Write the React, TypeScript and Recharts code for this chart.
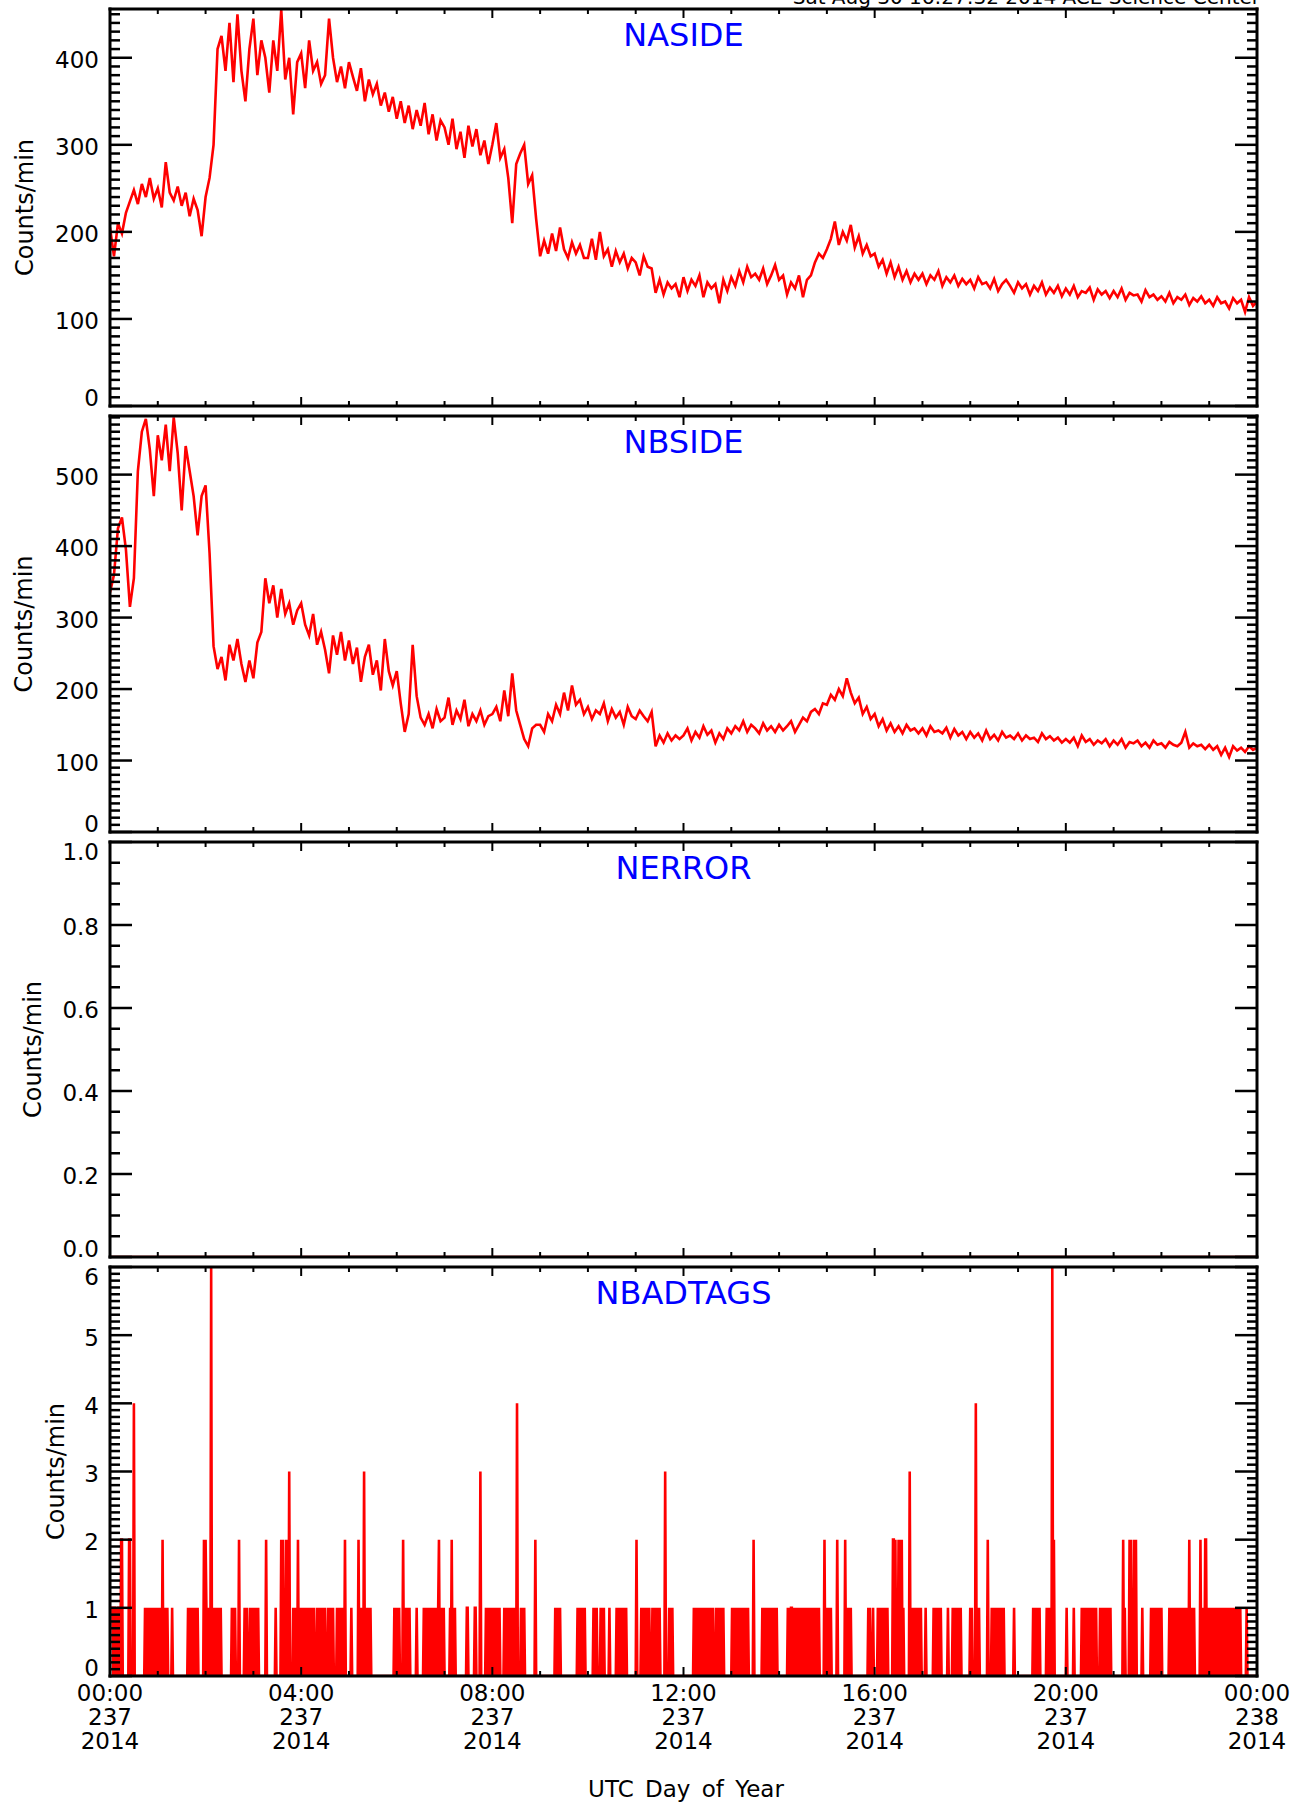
import React from 'react';
import { LineChart, Line, XAxis, YAxis, Label } from 'recharts';

const FONT = '"DejaVu Sans", Verdana, sans-serif';
const RED = '#ff0000';
const BLUE = '#0000ff';

// ---- time axis (minutes of day 237, 2014) ----
const HOUR_TICKS = [0, 60, 120, 180, 240, 300, 360, 420, 480, 540, 600, 660, 720, 780, 840, 900, 960, 1020, 1080, 1140, 1200, 1260, 1320, 1380, 1440];
const MAJOR_MINUTES = [0, 240, 480, 720, 960, 1200, 1440];
const TIME_LABELS = ['00:00', '04:00', '08:00', '12:00', '16:00', '20:00', '00:00'];
const DAY_LABELS = ['237', '237', '237', '237', '237', '237', '238'];
const YEAR_LABELS = ['2014', '2014', '2014', '2014', '2014', '2014', '2014'];

// ---- NASIDE, one reading every 5 minutes ----
const SAMPLE_MINUTES = 5;
const NASIDE = [
  205, 172, 210, 198, 222, 235, 248, 232, 255, 240, 262, 238,
  250, 228, 280, 245, 236, 252, 230, 245, 218, 238, 225, 195,
  240, 262, 300, 410, 425, 385, 440, 372, 450, 385, 350, 410,
  445, 380, 420, 400, 360, 420, 385, 455, 375, 400, 335, 395,
  405, 365, 420, 385, 395, 370, 380, 445, 400, 372, 390, 365,
  395, 378, 362, 388, 350, 375, 358, 370, 345, 360, 338, 355,
  330, 350, 325, 345, 318, 340, 322, 348, 312, 335, 305, 328,
  320, 300, 330, 295, 315, 285, 322, 298, 318, 288, 305, 278,
  300, 325, 285, 295, 262, 210, 278, 290, 300, 255, 265, 215,
  172, 190, 175, 198, 178, 205, 180, 170, 188, 175, 185, 170,
  170, 192, 168, 200, 172, 180, 160, 178, 165, 175, 158, 170,
  165, 150, 172, 160, 158, 130, 145, 128, 142, 135, 140, 125,
  148, 132, 145, 138, 150, 125, 142, 135, 140, 118, 145, 132,
  148, 138, 155, 142, 160, 148, 152, 145, 158, 140, 150, 162,
  145, 150, 128, 142, 135, 150, 125, 145, 150, 165, 175, 170,
  180, 192, 212, 185, 200, 190, 208, 182, 195, 175, 185, 172,
  175, 160, 168, 152, 165, 148, 160, 145, 155, 142, 152, 145,
  152, 140, 150, 145, 155, 138, 148, 142, 150, 138, 146, 140,
  145, 135, 148, 140, 142, 135, 146, 132, 140, 145, 138, 130,
  142, 135, 140, 128, 138, 132, 142, 128, 136, 130, 138, 126,
  135, 128, 138, 125, 132, 130, 136, 122, 134, 128, 132, 124,
  132, 125, 135, 122, 130, 127, 128, 120, 133, 125, 128, 122,
  126, 120, 130, 118, 125, 122, 128, 116, 124, 120, 126, 118,
  122, 115, 125, 118, 120, 112, 124, 118, 122, 108, 125, 115,
  120,
];

// ---- NBSIDE, one reading every 5 minutes ----
const NBSIDE = [
  335, 360, 425, 440, 395, 315, 355, 505, 560, 578, 535, 470,
  555, 520, 570, 505, 580, 530, 450, 540, 505, 470, 415, 470,
  485, 390, 260, 228, 245, 212, 262, 240, 270, 235, 210, 240,
  215, 265, 280, 355, 320, 345, 300, 340, 305, 320, 290, 310,
  320, 290, 275, 305, 262, 280, 255, 222, 275, 248, 280, 240,
  268, 235, 258, 210, 245, 262, 220, 240, 198, 270, 225, 205,
  225, 180, 140, 165, 262, 190, 160, 150, 165, 145, 172, 155,
  160, 188, 150, 170, 158, 185, 148, 165, 155, 170, 150, 162,
  165, 175, 155, 198, 162, 222, 170, 150, 130, 120, 145, 150,
  150, 140, 165, 155, 178, 165, 195, 170, 205, 178, 185, 165,
  175, 158, 170, 165, 180, 155, 172, 160, 168, 150, 175, 162,
  158, 170, 162, 155, 168, 120, 135, 125, 138, 128, 135, 130,
  135, 145, 128, 140, 132, 148, 136, 142, 125, 138, 130, 145,
  138, 148, 142, 155, 140, 150, 145, 138, 152, 142, 148, 140,
  150, 142, 148, 155, 140, 150, 160, 155, 168, 172, 165, 180,
  178, 192, 185, 200, 190, 215, 195, 180, 188, 165, 175, 158,
  165, 148, 158, 142, 152, 140, 148, 138, 150, 142, 145, 138,
  145, 135, 148, 140, 142, 138, 146, 132, 144, 135, 140, 130,
  140, 132, 138, 128, 142, 130, 136, 128, 140, 132, 135, 130,
  138, 128, 135, 130, 132, 126, 138, 130, 134, 128, 132, 125,
  130, 125, 132, 120, 135, 126, 130, 122, 128, 124, 130, 120,
  128, 122, 130, 118, 126, 124, 128, 120, 125, 118, 128, 122,
  124, 118, 126, 122, 120, 125, 140, 118, 124, 120, 122, 116,
  122, 115, 120, 108, 118, 105, 120, 114, 118, 112, 120, 115,
  118,
];

// ---- NERROR, hourly readings (all zero) ----
const NERROR_STEP = 60;
const NERROR = [0, 0, 0, 0, 0, 0, 0, 0, 0, 0, 0, 0, 0, 0, 0, 0, 0, 0, 0, 0, 0, 0, 0, 0, 0];

// ---- NBADTAGS: minutes with non-zero counts, grouped by count ----
const BAD_TAG_ONES = [
  0, 1, 2, 3, 5, 6, 8, 10, 11, 44, 46, 48, 50, 52, 54, 56, 58, 60, 62, 64, 68, 70, 72, 78,
  98, 100, 102, 104, 106, 108, 110, 121, 123, 125, 129, 131, 133, 135, 137, 139,
  153, 155, 157, 169, 172, 176, 178, 180, 182, 184, 186, 208, 219, 230, 232, 234,
  238, 240, 242, 244, 246, 248, 250, 252, 254, 256, 260, 262, 264, 266, 268, 270,
  274, 276, 278, 280, 285, 287, 289, 291, 293, 303, 314, 316, 321, 323, 325, 327,
  357, 359, 361, 363, 370, 372, 374, 376, 385, 394, 396, 398, 400, 402, 404, 406, 408, 410, 412,
  415, 417, 419, 427, 431, 433, 448, 449, 458, 459, 472, 474, 476, 478, 481, 483, 485, 487, 489,
  495, 497, 499, 501, 503, 505, 507, 516, 518, 520, 559, 561, 563, 565, 587, 589, 592, 594, 596,
  607, 609, 611, 616, 618, 620, 627, 636, 638, 640, 642, 644, 646, 648,
  667, 669, 671, 673, 675, 677, 681, 683, 685, 688, 690, 702, 704, 706,
  733, 735, 737, 740, 742, 744, 747, 749, 751, 753, 755, 757, 761, 763, 766, 768, 770,
  781, 783, 785, 787, 789, 791, 793, 795, 797, 799, 801, 819, 821, 824, 827, 829, 831, 833, 835, 837,
  851, 853, 855, 856, 858, 860, 862, 864, 866, 868, 870, 872, 874, 876, 878, 880, 882, 884, 886, 888, 890,
  899, 901, 903, 905, 926, 928, 930, 952, 954, 958, 964, 966, 968, 970, 972, 974, 976, 988, 996,
  1006, 1008, 1010, 1012, 1014, 1016, 1018, 1024, 1034, 1036, 1038, 1040, 1043, 1052,
  1058, 1060, 1062, 1064, 1066, 1068, 1080, 1082, 1089, 1091,
  1107, 1109, 1111, 1113, 1115, 1117, 1119, 1122, 1135, 1159, 1161, 1163, 1165, 1167,
  1176, 1178, 1180, 1201, 1210, 1220, 1222, 1224, 1226, 1228, 1230, 1232, 1234, 1236, 1238,
  1243, 1245, 1247, 1249, 1251, 1253, 1256, 1274, 1284, 1296,
  1307, 1309, 1311, 1313, 1315, 1317, 1320, 1330, 1332, 1334, 1336, 1338, 1341,
  1344, 1346, 1348, 1350, 1352, 1357, 1359, 1361, 1371, 1373,
  1378, 1380, 1382, 1384, 1386, 1388, 1390, 1392, 1394, 1396, 1398, 1400, 1402, 1404, 1406,
  1408, 1410, 1412, 1414, 1416, 1419, 1427,
];
const BAD_TAG_TWOS = [
  14, 15, 24, 25, 66, 118, 120, 162, 196, 215, 217, 221, 223, 236, 295, 312, 368, 413, 429, 534,
  661, 808, 897, 913, 923, 983, 984, 986, 990, 992, 994, 1102, 1185, 1272, 1280, 1282, 1286, 1288,
  1355, 1369, 1375, 1376,
];
const BAD_TAG_THREES = [225, 319, 465, 697, 1004];
const BAD_TAG_FOURS = [30, 511, 1087];
const BAD_TAG_SIXES = [127, 1183];

// ---- y axes ----
const NASIDE_Y_MAJOR = [0, 100, 200, 300, 400];
const NBSIDE_Y_MAJOR = [0, 100, 200, 300, 400, 500];
const NERROR_Y_MAJOR = [0, 0.2, 0.4, 0.6, 0.8, 1.0];
const NBADTAGS_Y_MAJOR = [0, 1, 2, 3, 4, 5, 6];

// ---- build rows ----
const sampled = (vals: number[], step: number) => vals.map((v, i) => ({ t: i * step, v }));
const badTagRows = (() => {
  const rows = [];
  const counts: Record<number, number> = {};
  BAD_TAG_ONES.forEach((m) => (counts[m] = 1));
  BAD_TAG_TWOS.forEach((m) => (counts[m] = 2));
  BAD_TAG_THREES.forEach((m) => (counts[m] = 3));
  BAD_TAG_FOURS.forEach((m) => (counts[m] = 4));
  BAD_TAG_SIXES.forEach((m) => (counts[m] = 6));
  for (let m = 0; m <= 1440; m++) rows.push({ t: m, v: counts[m] || 0 });
  return rows;
})();

const tickList = (step: number, max: number) => {
  const out: number[] = [];
  for (let i = 0; i * step <= max + 1e-9; i++) out.push(Math.round(i * step * 1000) / 1000);
  return out;
};

const AX = 10;

type PanelProps = {
  top: number;
  height: number;
  rows: { t: number; v: number }[];
  yMax: number;
  yMajor: number[];
  yStep: number;
  fmt: (v: number) => string;
  title: string;
  labelCx: number;
  bottomLabels?: boolean;
  header?: boolean;
};

function Panel({ top, height, rows, yMax, yMajor, yStep, fmt, title, labelCx, bottomLabels, header }: PanelProps) {
  const bottomBand = bottomLabels ? 128 : AX;
  const chartH = AX + height + bottomBand;
  const plotTop = AX;
  const plotBottom = AX + height;
  const yTicks = tickList(yStep, yMax);
  const axisLine = { stroke: '#000', strokeWidth: 3, strokeLinecap: 'square' as const };

  const xTick = (side: 'top' | 'bottom') => (props: any) => {
    const { x, y, payload } = props;
    const v = payload.value;
    const li = MAJOR_MINUTES.indexOf(v);
    const len = li >= 0 ? 9 : 5;
    const dir = side === 'bottom' ? -1 : 1;
    return (
      <g>
        <line x1={x} x2={x} y1={y} y2={y + dir * len} stroke="#000" strokeWidth={2} />
        {side === 'bottom' && bottomLabels && li >= 0 && (
          <text textAnchor="middle" fontFamily={FONT} fontSize={23} fill="#000">
            <tspan x={x} y={y + 25}>{TIME_LABELS[li]}</tspan>
            <tspan x={x} y={y + 49}>{DAY_LABELS[li]}</tspan>
            <tspan x={x} y={y + 73}>{YEAR_LABELS[li]}</tspan>
          </text>
        )}
      </g>
    );
  };

  const yTick = (side: 'left' | 'right') => (props: any) => {
    const { x, y, payload } = props;
    const v = payload.value;
    const major = yMajor.some((m) => Math.abs(m - v) < 1e-6);
    const len = major ? 22 : 10;
    const dir = side === 'left' ? 1 : -1;
    const cy = Math.min(Math.max(y + 2, plotTop + 10), plotBottom - 8);
    return (
      <g>
        <line x1={x} x2={x + dir * len} y1={y} y2={y} stroke="#000" strokeWidth={2.5} />
        {side === 'left' && major && (
          <text x={x - 11} y={cy + 8.4} textAnchor="end" fontFamily={FONT} fontSize={23} fill="#000">
            {fmt(v)}
          </text>
        )}
      </g>
    );
  };

  return (
    <div style={{ position: 'absolute', left: 0, top: top - AX, width: 1306, height: chartH }}>
      <LineChart width={1306} height={chartH} data={rows} margin={{ top: 0, right: 0, bottom: 0, left: 0 }}>
        <XAxis
          xAxisId="b"
          dataKey="t"
          type="number"
          domain={[0, 1440]}
          ticks={HOUR_TICKS}
          interval={0}
          height={bottomBand}
          tickSize={0}
          tickMargin={0}
          tickLine={false}
          axisLine={axisLine}
          tick={xTick('bottom')}
          allowDataOverflow
        >
          {bottomLabels && (
            <Label
              content={() => (
                <text x={686} y={plotBottom + 121} textAnchor="middle" fontFamily={FONT} fontSize={23} fill="#000" wordSpacing={4}>
                  UTC Day of Year
                </text>
              )}
            />
          )}
        </XAxis>
        <XAxis
          xAxisId="top"
          orientation="top"
          dataKey="t"
          type="number"
          domain={[0, 1440]}
          ticks={HOUR_TICKS}
          interval={0}
          height={AX}
          tickSize={0}
          tickMargin={0}
          tickLine={false}
          axisLine={axisLine}
          tick={xTick('top')}
          allowDataOverflow
        >
          <Label
            content={() => (
              <g>
                <text x={683.5} y={plotTop + 37} textAnchor="middle" fontFamily={FONT} fontSize={32} fill={BLUE}>
                  {title}
                </text>
                {header && (
                  <text x={1260} y={plotTop - 5} textAnchor="end" fontFamily={FONT} fontSize={20} fill="#000">
                    Sat Aug 30 16:27:32 2014 ACE Science Center
                  </text>
                )}
              </g>
            )}
          />
        </XAxis>
        <YAxis
          yAxisId="l"
          type="number"
          domain={[0, yMax]}
          ticks={yTicks}
          interval={0}
          width={110}
          tickSize={0}
          tickMargin={0}
          tickLine={false}
          axisLine={axisLine}
          tick={yTick('left')}
          allowDataOverflow
        >
          <Label
            content={() => {
              const cx = labelCx + 9;
              const cy = plotTop + height / 2;
              return (
                <text x={cx} y={cy} transform={`rotate(-90 ${cx} ${cy})`} textAnchor="middle" fontFamily={FONT} fontSize={24} fill="#000">
                  Counts/min
                </text>
              );
            }}
          />
        </YAxis>
        <YAxis
          yAxisId="r"
          orientation="right"
          type="number"
          domain={[0, yMax]}
          ticks={yTicks}
          interval={0}
          width={49}
          tickSize={0}
          tickMargin={0}
          tickLine={false}
          axisLine={axisLine}
          tick={yTick('right')}
          allowDataOverflow
        />
        <Line
          xAxisId="b"
          yAxisId="l"
          type="linear"
          dataKey="v"
          stroke={RED}
          strokeWidth={2.6}
          dot={false}
          activeDot={false}
          isAnimationActive={false}
        />
      </LineChart>
    </div>
  );
}

export default function App() {
  return (
    <div style={{ position: 'absolute', left: 0, top: 0, width: 1306, height: 1804, background: '#fff', overflow: 'hidden' }}>
      <Panel
        top={9}
        height={397}
        rows={sampled(NASIDE, SAMPLE_MINUTES)}
        yMax={456}
        yMajor={NASIDE_Y_MAJOR}
        yStep={10}
        fmt={(v) => String(v)}
        title="NASIDE"
        labelCx={24}
        header
      />
      <Panel
        top={416}
        height={416}
        rows={sampled(NBSIDE, SAMPLE_MINUTES)}
        yMax={582}
        yMajor={NBSIDE_Y_MAJOR}
        yStep={10}
        fmt={(v) => String(v)}
        title="NBSIDE"
        labelCx={23}
      />
      <Panel
        top={842}
        height={415}
        rows={sampled(NERROR, NERROR_STEP)}
        yMax={1}
        yMajor={NERROR_Y_MAJOR}
        yStep={0.05}
        fmt={(v) => v.toFixed(1)}
        title="NERROR"
        labelCx={32}
      />
      <Panel
        top={1267}
        height={409}
        rows={badTagRows}
        yMax={6}
        yMajor={NBADTAGS_Y_MAJOR}
        yStep={0.1}
        fmt={(v) => String(v)}
        title="NBADTAGS"
        labelCx={55}
        bottomLabels
      />
    </div>
  );
}
